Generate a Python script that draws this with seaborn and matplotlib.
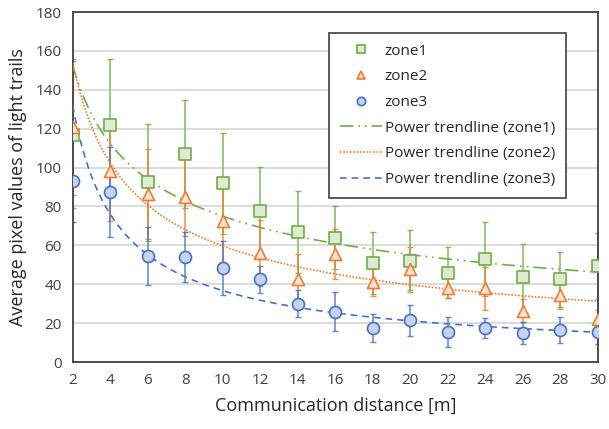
import numpy as np
import pandas as pd
import matplotlib
matplotlib.use("Agg")
import matplotlib.pyplot as plt
import seaborn as sns

sns.set_style('whitegrid')
plt.rcParams['font.family'] = ['Open Sans', 'DejaVu Sans']

distance = [2, 4, 6, 8, 10, 12, 14, 16, 18, 20, 22, 24, 26, 28, 30]

zone1 = [117, 122, 92.5, 107, 92, 77.5, 67, 64, 51, 52, 46, 53, 43.5, 42.5, 49.5]
zone1_err = [38, 34, 30, 28, 26, 23, 21, 16, 16, 16, 13, 19, 17, 14, 17]

zone2 = [121, 98.5, 86.5, 85, 72.5, 56, 42.5, 55.5, 41, 48, 38, 38, 26.5, 34.5, 22]
zone2_err = [35, 26, 23, 20, 21, 17, 13, 13, 7, 11, 5, 11, 6, 7, 5]

zone3 = [93, 87.5, 54.5, 54, 48.5, 42.5, 30, 26, 17.5, 21.5, 15.5, 17.5, 15, 16.5, 15.5]
zone3_err = [21, 23, 15, 13, 14, 7, 7, 10, 7, 8, 7.5, 5, 5.5, 6.5, 6]

labels = ['zone1', 'zone2', 'zone3']
colors = ['#70AD47', '#ED7D31', '#4472C4']
faces = ['#DDEBD3', '#FBE3D3', '#C5D4EE']
markers = ['s', '^', 'o']

df = pd.DataFrame({'distance': distance * 3,
                   'value': zone1 + zone2 + zone3,
                   'err': zone1_err + zone2_err + zone3_err,
                   'zone': [z for z in labels for _ in distance]})

fig = plt.figure(figsize=(6.09, 4.29), dpi=100)
ax = fig.add_axes([0.1195, 0.156, 0.862, 0.816])

# error bars
for z, c in zip(labels, colors):
    d = df[df['zone'] == z]
    ax.errorbar(d['distance'], d['value'], yerr=d['err'], fmt='none',
                ecolor=c, elinewidth=1.1, capsize=2, capthick=1, alpha=0.85, zorder=2)

# markers
handles = []
for z, c, f, m in zip(labels, colors, faces, markers):
    d = df[df['zone'] == z]
    sns.scatterplot(x=d['distance'], y=d['value'], marker=m, s=75 if m != 's' else 80,
                    color=f, edgecolor=c, linewidth=1.2, ax=ax, zorder=4)
    h = plt.Line2D([], [], ls='none', marker=m, markersize=6, markerfacecolor=f,
                   markeredgecolor=c, markeredgewidth=1.2, label=z)
    handles.append(h)

# power trendlines (least squares in log-log space, like Excel)
styles = [(0, (8, 3, 1, 3, 1, 3)), (0, (1, 1)), (0, (4, 3))]
xs = np.linspace(2, 30, 300)
for z, c, st in zip(labels, colors, styles):
    d = df[df['zone'] == z]
    b, ln_a = np.polyfit(np.log(d['distance']), np.log(d['value']), 1)
    ys = np.exp(ln_a) * xs ** b
    sns.lineplot(x=xs, y=ys, color=c, linewidth=1.2, ax=ax, zorder=3)
    ax.lines[-1].set_linestyle(st)
    h = plt.Line2D([], [], color=c, linewidth=1.2, linestyle=st,
                   label='Power trendline (%s)' % z)
    handles.append(h)

ax.set_xlim(2, 30)
ax.set_ylim(0, 180)
ax.set_xticks(distance)
ax.set_yticks(range(0, 181, 20))
ax.grid(axis='x', visible=False)
ax.grid(axis='y', color='#D9D9D9', linewidth=1.3)
for sp in ax.spines.values():
    sp.set_color('#404040')
    sp.set_linewidth(1.3)
ax.tick_params(axis='both', labelsize=11, colors='#404040', length=0, pad=8)
ax.set_xlabel('Communication distance [m]', fontsize=13, color='#262626', labelpad=6)
ax.set_ylabel('Average pixel values of light trails', fontsize=13, color='#262626', labelpad=6)

leg = ax.legend(handles=handles, loc='upper right', bbox_to_anchor=(0.939, 0.94),
                borderaxespad=0, fontsize=11, frameon=True, fancybox=False,
                edgecolor='#404040', framealpha=1, labelspacing=0.7,
                handlelength=2.8, handletextpad=0.15, borderpad=0.7)
leg.get_frame().set_linewidth(1.2)

fig.savefig('out.png', dpi=100)
